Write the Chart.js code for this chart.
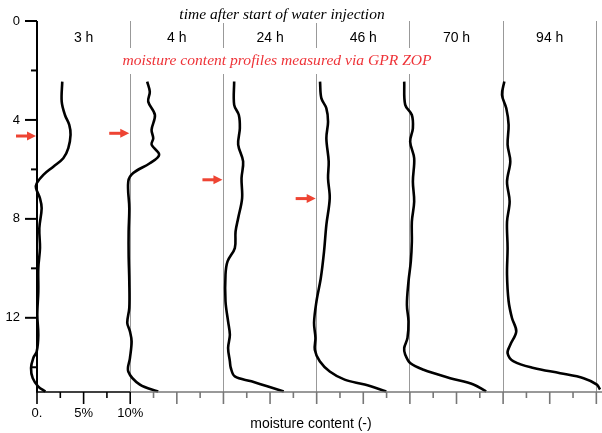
<!DOCTYPE html>
<html>
<head>
<meta charset="utf-8">
<script src="https://cdn.jsdelivr.net/npm/chart.js@4.4.0/dist/chart.umd.min.js"></script>
<style>
  body { margin: 0; background: #fff; }
  #wrap { width: 602px; height: 433px; position: relative; }
</style>
</head>
<body>
<div id="wrap"><canvas id="profileChart"></canvas></div>
<script>
// one panel per time step, each shifted 10 % along the x axis
const panelLabels = ['3 h', '4 h', '24 h', '46 h', '70 h', '94 h'];
const panelShift = 10;

// depth (m) and moisture content (%) of every profile
const depth3h = [2.45, 3.26, 3.8, 4.2, 4.6, 5.14, 5.55, 5.89, 6.22, 6.56, 6.76, 7.17, 7.57, 8.38, 9.18, 9.99, 10.94, 11.88, 12.69, 13.36, 13.63, 14.03, 14.44, 14.78, 14.98];
const moist3h = [2.71, 2.65, 3.0, 3.46, 3.6, 3.36, 2.82, 1.75, 0.68, -0.03, -0.1, 0.32, 0.5, 0.25, 0.32, 0.14, 0.14, 0.03, 0.14, -0.03, -0.4, -0.64, -0.46, 0.14, 0.9];

const depth4h = [2.45, 2.86, 3.26, 3.8, 4.4, 4.74, 5.0, 5.41, 5.75, 6.15, 6.49, 7.57, 8.51, 9.45, 10.53, 11.6, 12.2, 12.55, 12.96, 13.63, 14.17, 14.7, 14.98];
const moist4h = [1.82, 2.1, 1.93, 2.65, 2.29, 2.47, 2.29, 3.1, 2.1, 0.32, -0.21, -0.1, -0.17, -0.17, -0.1, -0.1, -0.32, -0.03, 0.15, -0.03, -0.21, 1.04, 3.0];

const depth24h = [2.45, 3.39, 3.8, 4.34, 5.0, 5.68, 6.36, 7.17, 7.97, 8.51, 9.18, 9.72, 10.26, 11.33, 12.15, 12.69, 13.22, 13.76, 14.03, 14.37, 14.57, 14.78, 14.98];
const moist24h = [1.15, 1.15, 1.65, 1.76, 1.58, 2.11, 1.94, 2.0, 1.58, 1.3, 1.22, 0.44, 0.22, 0.22, 0.5, 0.69, 0.5, 0.69, 0.79, 1.22, 3.0, 4.79, 6.47];

const depth46h = [2.45, 3.12, 3.53, 4.07, 4.74, 5.68, 6.36, 7.17, 8.24, 9.32, 10.4, 11.33, 12.2, 12.82, 13.29, 13.76, 14.17, 14.5, 14.7, 14.98];
const moist46h = [0.36, 0.5, 1.04, 1.22, 1.04, 1.29, 1.22, 1.4, 1.04, 0.79, 0.44, -0.02, -0.28, -0.13, -0.2, 0.33, 1.4, 3.0, 5.15, 7.47];

const depth70h = [2.45, 3.39, 3.8, 4.34, 4.88, 5.55, 6.49, 7.3, 8.11, 8.92, 9.72, 10.53, 11.47, 12.15, 12.82, 13.22, 13.49, 13.83, 14.1, 14.44, 14.7, 14.98];
const moist70h = [-0.61, -0.5, 0.21, 0.32, 0.03, 0.46, 0.32, 0.46, 0.21, 0.21, 0.1, -0.15, -0.32, -0.15, -0.26, -0.61, -0.5, 0.03, 1.46, 4.32, 6.82, 8.18];

const depth94h = [2.45, 2.99, 3.53, 4.2, 5.0, 5.68, 6.49, 7.3, 8.11, 9.18, 10.26, 11.33, 12.01, 12.55, 13.09, 13.43, 13.76, 14.03, 14.24, 14.44, 14.7, 14.9];
const moist94h = [0.13, -0.12, 0.34, 0.59, 0.48, 0.77, 0.42, 0.7, 0.42, 0.48, 0.42, 0.59, 0.95, 1.41, 0.77, 0.48, 1.13, 3.27, 6.13, 8.63, 10.06, 10.4];

// wetting front markers (red arrows): panel index and depth
const arrowPanel = [0, 1, 2, 3];
const arrowDepth = [4.65, 4.54, 6.42, 7.18];

// axis labels
const xTickValues = [0, 5, 10];
const xTickText = ['0.', '5%', '10%'];
const yTickValues = [0, 4, 8, 12];

const profiles = [
  [depth3h, moist3h], [depth4h, moist4h], [depth24h, moist24h],
  [depth46h, moist46h], [depth70h, moist70h], [depth94h, moist94h]
];

const datasets = profiles.map(([d, m], i) => ({
  label: panelLabels[i],
  data: d.map((v, k) => ({ x: i * panelShift + m[k], y: v })),
  showLine: true,
  borderColor: '#000',
  borderWidth: 2.6,
  pointRadius: 0,
  tension: 0.35,
  clip: false
}));

const SANS = '"Liberation Sans", Arial, sans-serif';
const SERIF = '"Liberation Serif", "Times New Roman", serif';

// axes, tick marks, arrows and texts
const decor = {
  id: 'decor',
  afterDraw(chart) {
    const { ctx, chartArea: a, scales: { x, y } } = chart;
    ctx.save();

    // texts over the panel lines get a white background
    function label(text, cx, cy, font, color, pad) {
      ctx.font = font;
      ctx.textAlign = 'center';
      ctx.textBaseline = 'middle';
      if (pad) {
        const w = ctx.measureText(text).width;
        ctx.fillStyle = '#fff';
        ctx.fillRect(cx - w / 2 - pad, cy - pad - 6, w + pad * 2, 12 + pad * 2);
      }
      ctx.fillStyle = color;
      ctx.fillText(text, cx, cy);
    }
    label('time after start of water injection', 282, 15, 'italic 15.5px ' + SERIF, '#000', 2);
    label('moisture content profiles measured via GPR ZOP', 277, 61, 'italic 15.6px ' + SERIF, '#ee3338', 7);
    label('moisture content (-)', 311, 424, '14px ' + SANS, '#000', 0);
    panelLabels.forEach((t, i) => {
      label(t, x.getPixelForValue(i * panelShift + panelShift / 2), 38, '14px ' + SANS, '#000', 0);
    });

    // left axis
    ctx.strokeStyle = '#000';
    ctx.lineWidth = 2;
    ctx.beginPath();
    ctx.moveTo(a.left, a.top);
    ctx.lineTo(a.left, a.bottom);
    ctx.stroke();
    y.ticks.forEach(t => {
      const py = y.getPixelForValue(t.value);
      const len = t.value % 4 === 0 ? 12 : 6;
      ctx.beginPath();
      ctx.moveTo(a.left - len, py);
      ctx.lineTo(a.left, py);
      ctx.stroke();
    });

    // bottom axis: black up to the first panel line, grey after
    const x10 = x.getPixelForValue(10);
    ctx.lineWidth = 1.6;
    ctx.strokeStyle = '#000';
    ctx.beginPath();
    ctx.moveTo(a.left - 1, a.bottom);
    ctx.lineTo(x10, a.bottom);
    ctx.stroke();
    ctx.strokeStyle = '#777';
    ctx.beginPath();
    ctx.moveTo(x10, a.bottom);
    ctx.lineTo(a.right + 1, a.bottom);
    ctx.stroke();
    x.ticks.forEach(t => {
      const px = x.getPixelForValue(t.value);
      const len = Math.abs(t.value % 5) < 1e-6 ? 12 : 6;
      ctx.strokeStyle = t.value <= 10 ? '#000' : '#777';
      ctx.beginPath();
      ctx.moveTo(px, a.bottom);
      ctx.lineTo(px, a.bottom + len);
      ctx.stroke();
    });

    // red arrows pointing at each wetting front
    ctx.fillStyle = '#ee4433';
    arrowPanel.forEach((p, i) => {
      const tx = x.getPixelForValue(p * panelShift) - 1;
      const ty = y.getPixelForValue(arrowDepth[i]);
      ctx.fillRect(tx - 20, ty - 1.5, 12, 3);
      ctx.beginPath();
      ctx.moveTo(tx, ty);
      ctx.lineTo(tx - 9, ty - 4.5);
      ctx.lineTo(tx - 9, ty + 4.5);
      ctx.closePath();
      ctx.fill();
    });
    ctx.restore();
  }
};

new Chart(document.getElementById('profileChart'), {
  type: 'scatter',
  data: { datasets },
  options: {
    responsive: true,
    maintainAspectRatio: false,
    animation: false,
    layout: { padding: { top: 21, right: 1, left: 0, bottom: 0 } },
    scales: {
      x: {
        type: 'linear',
        min: 0,
        max: 60.5,
        afterFit(scale) {
          scale.height = 41;
          scale.paddingLeft = 0;
          scale.paddingRight = 0;
        },
        border: { display: false },
        grid: {
          drawTicks: false,
          color: c => (c.tick && c.tick.value > 0 && Math.abs(c.tick.value % panelShift) < 1e-6) ? '#999' : 'rgba(0,0,0,0)',
          lineWidth: 1
        },
        ticks: {
          stepSize: 2.5,
          includeBounds: false,
          autoSkip: false,
          maxRotation: 0,
          padding: 14,
          color: '#000',
          font: { family: SANS, size: 13 },
          callback: v => {
            const k = xTickValues.findIndex(t => Math.abs(t - v) < 1e-6);
            return k >= 0 ? xTickText[k] : '';
          }
        }
      },
      y: {
        type: 'linear',
        reverse: true,
        min: 0,
        max: 15,
        afterFit(scale) {
          scale.width = 37;
          scale.paddingTop = 0;
          scale.paddingBottom = 0;
        },
        border: { display: false },
        grid: { display: false, drawTicks: false },
        ticks: {
          stepSize: 2,
          includeBounds: false,
          autoSkip: false,
          padding: 17,
          color: '#000',
          font: { family: SANS, size: 13 },
          callback: v => (yTickValues.includes(v) ? String(v) : '')
        }
      }
    },
    plugins: {
      legend: { display: false },
      tooltip: { enabled: false }
    }
  },
  plugins: [decor]
});
</script>
</body>
</html>
